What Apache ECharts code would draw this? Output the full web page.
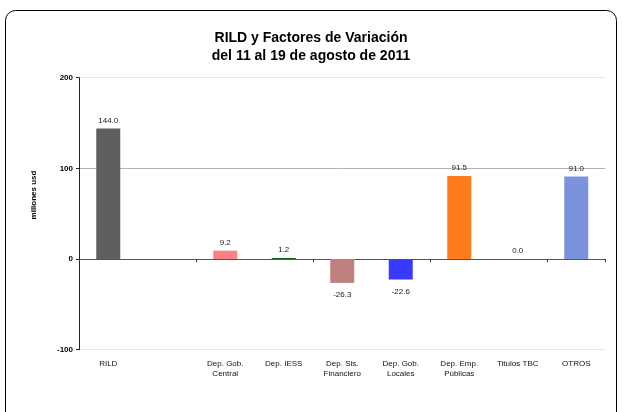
<!DOCTYPE html>
<html>
<head>
<meta charset="utf-8">
<script src="https://cdn.jsdelivr.net/npm/echarts@6/dist/echarts.min.js"></script>
<style>
  html, body { margin: 0; padding: 0; background: #fff; }
  #chart { width: 622px; height: 412px; }
</style>
</head>
<body>
<div id="chart"></div>
<script>
// categorias del eje x (la segunda va vacia)
const categories = ['RILD', '', 'Dep. Gob.\nCentral', 'Dep. IESS', 'Dep. Sis.\nFinanciero', 'Dep. Gob.\nLocales', 'Dep. Emp.\nPúblicas', 'Titulos TBC', 'OTROS']
const values = [144.0, null, 9.2, 1.2, -26.3, -22.6, 91.5, 0.0, 91.0]
const barColors = ['#5f5f5f', '#ffffff', '#ff8080', '#1f5f1f', '#c08080', '#3a3aff', '#ff7b1c', '#ffffff', '#7b93dc']
const yTicks = [-100, 0, 100, 200]

const chart = echarts.init(document.getElementById('chart'))

const font = 'Liberation Sans, Arial, sans-serif'

chart.setOption({
  animation: false,
  textStyle: { fontFamily: font },
  title: {
    text: 'RILD y Factores de Variación\ndel 11 al 19 de agosto de 2011',
    left: 'center',
    top: 24,
    textStyle: { fontSize: 14, fontWeight: 'bold', color: '#000', lineHeight: 18, fontFamily: font }
  },
  graphic: [
    {
      type: 'rect',
      shape: { x: 5.5, y: 10.5, width: 611, height: 430, r: 10 },
      style: { fill: 'none', stroke: '#000', lineWidth: 1 },
      z: -1
    },
    {
      type: 'text',
      x: 34,
      y: 195,
      rotation: Math.PI / 2,
      style: {
        text: 'millones usd',
        font: 'bold 8px ' + font,
        fill: '#000',
        align: 'center',
        verticalAlign: 'middle'
      }
    }
  ],
  grid: { left: 79, right: 16.5, top: 77.7, bottom: 62.3 },
  xAxis: [
    {
      type: 'category',
      data: categories,
      axisLine: { onZero: true, lineStyle: { color: '#555', width: 1 } },
      axisTick: { show: true, length: 3, inside: false, lineStyle: { color: '#333' } },
      axisLabel: { show: false }
    },
    {
      type: 'category',
      data: categories,
      position: 'bottom',
      axisLine: { show: false, onZero: false },
      axisTick: { show: false },
      axisLabel: {
        show: true,
        interval: 0,
        fontSize: 8,
        color: '#111',
        lineHeight: 10,
        margin: 9
      }
    }
  ],
  yAxis: {
    type: 'value',
    min: yTicks[0],
    max: yTicks[yTicks.length - 1],
    interval: 100,
    axisLine: { show: true, lineStyle: { color: '#222' } },
    axisTick: { show: true, length: 3, lineStyle: { color: '#222' } },
    axisLabel: { fontSize: 8, fontWeight: 'bold', color: '#000', margin: 6 },
    splitLine: { show: true, lineStyle: { color: ['#e6e6e6', '#888888', '#b4b4b4', '#e6e6e6'], width: 1 } }
  },
  series: [
    {
      type: 'bar',
      xAxisIndex: 0,
      barWidth: 24,
      data: values.map((v, i) => ({
        value: v,
        itemStyle: { color: barColors[i] },
        label: { position: v < 0 ? 'bottom' : 'top', distance: v < 0 ? 8 : 4 }
      })),
      label: {
        show: true,
        fontSize: 8,
        color: '#222',
        formatter: p => (p.value == null ? '' : p.value.toFixed(1))
      }
    }
  ]
})
</script>
</body>
</html>
